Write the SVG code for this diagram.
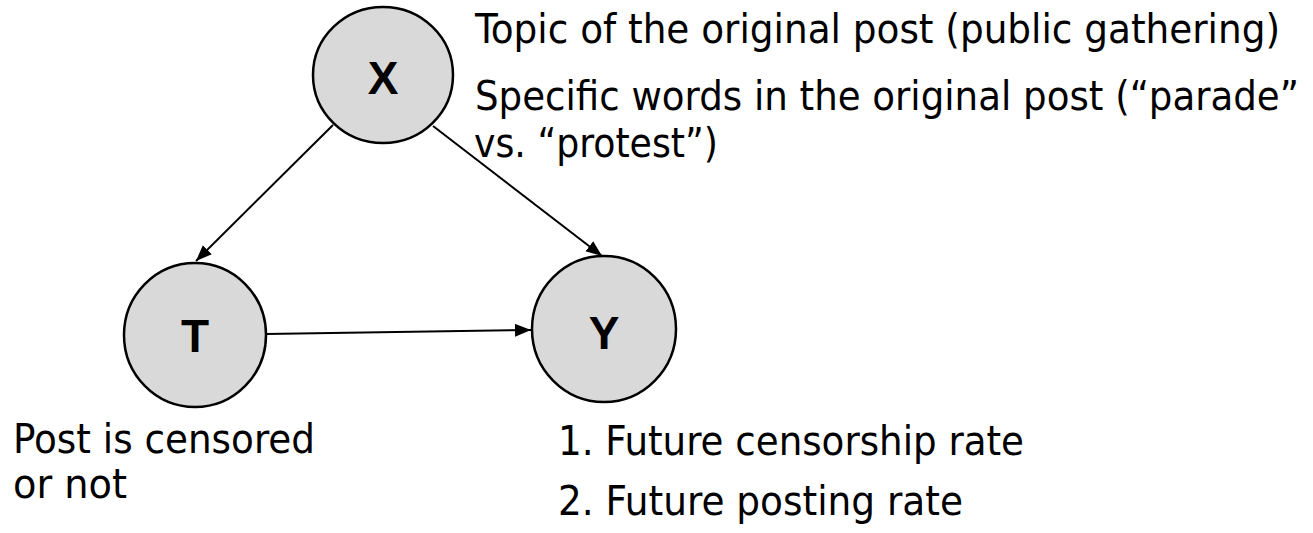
<svg xmlns="http://www.w3.org/2000/svg" width="1313" height="533" viewBox="0 0 1313 533">
  <style>
    .node { fill: #d9d9d9; stroke: #000; stroke-width: 2.5; }
    .var { font-family: "Liberation Sans", Arial, sans-serif; font-weight: bold; font-size: 46px; fill: #000; text-anchor: middle; }
    .note { font-family: "DejaVu Sans Condensed", "DejaVu Sans", Verdana, sans-serif; font-stretch: condensed; font-size: 41px; fill: #000; }
    .edge { stroke: #000; stroke-width: 2; fill: none; marker-end: url(#arrow); }
  </style>
  <defs>
    <marker id="arrow" viewBox="0 0 10 8" refX="10" refY="4" markerWidth="8" markerHeight="6.5" markerUnits="strokeWidth" orient="auto">
      <path d="M0,0 L10,4 L0,8 z" fill="#000"/>
    </marker>
  </defs>
  <rect width="1313" height="533" fill="#fff"/>

  <g id="edges">
    <line class="edge" x1="333" y1="125" x2="196" y2="261"/>
    <line class="edge" x1="433" y1="126" x2="602" y2="256"/>
    <line class="edge" x1="266" y1="334" x2="531" y2="330"/>
  </g>

  <g id="node-x">
    <ellipse class="node" cx="383" cy="75" rx="70" ry="68"/>
    <text class="var" x="383" y="94">X</text>
  </g>
  <g id="node-t">
    <ellipse class="node" cx="195" cy="335" rx="71" ry="72"/>
    <text class="var" x="195" y="352">T</text>
  </g>
  <g id="node-y">
    <ellipse class="node" cx="604" cy="329" rx="72" ry="73"/>
    <text class="var" x="604" y="349">Y</text>
  </g>

  <g id="labels-x">
    <text class="note" x="475" y="43" textLength="805" lengthAdjust="spacingAndGlyphs">Topic of the original post (public gathering)</text>
    <text class="note" x="475" y="110" textLength="824" lengthAdjust="spacingAndGlyphs">Specific words in the original post (“parade”</text>
    <text class="note" x="474" y="157" textLength="244" lengthAdjust="spacingAndGlyphs">vs. “protest”)</text>
  </g>
  <g id="labels-t">
    <text class="note" x="13" y="453" textLength="302" lengthAdjust="spacingAndGlyphs">Post is censored</text>
    <text class="note" x="13" y="498" textLength="114" lengthAdjust="spacingAndGlyphs">or not</text>
  </g>
  <g id="labels-y">
    <text class="note" x="558" y="455" textLength="466" lengthAdjust="spacingAndGlyphs">1. Future censorship rate</text>
    <text class="note" x="558" y="515" textLength="405" lengthAdjust="spacingAndGlyphs">2. Future posting rate</text>
  </g>
</svg>
